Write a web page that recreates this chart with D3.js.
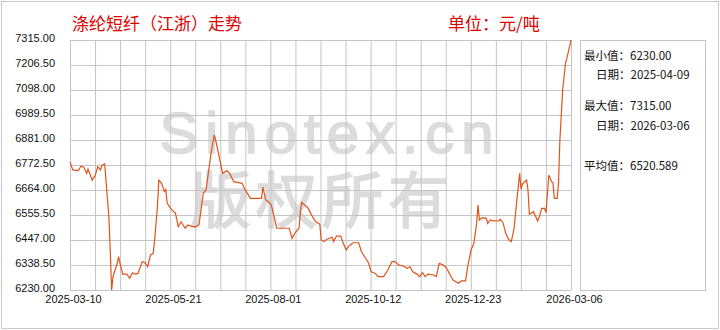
<html>
<head>
  <meta charset="utf-8">
  <title>涤纶短纤(江浙)走势</title>
  <script src="https://d3js.org/d3.v7.min.js"></script>
  <style>
    body { margin: 0; background: #fff; }
    .gridlines line { stroke: #c4c4c4; }
    .gridlines .domain { stroke: none; }
    .axis .domain, .axis line { stroke: none; }
    .axis text { font-family: "Liberation Sans", Arial, sans-serif; font-size: 11px; fill: #111; }
  </style>
</head>
<body>
<svg id="chart" width="720" height="330"></svg>
<script>
  // price series (元/吨)
  const dates = [
    "2025-03-10","2025-03-12","2025-03-16","2025-03-18","2025-03-20","2025-03-22","2025-03-23","2025-03-26","2025-03-28","2025-03-30",
    "2025-04-01","2025-04-02","2025-04-04","2025-04-05","2025-04-07","2025-04-08","2025-04-09","2025-04-10","2025-04-13","2025-04-14",
    "2025-04-15","2025-04-17","2025-04-20","2025-04-22","2025-04-24","2025-04-26","2025-04-28","2025-05-01","2025-05-03","2025-05-05",
    "2025-05-07","2025-05-09","2025-05-10","2025-05-12","2025-05-13","2025-05-15","2025-05-17","2025-05-18","2025-05-19","2025-05-22",
    "2025-05-25","2025-05-27","2025-05-29","2025-06-01","2025-06-03","2025-06-06","2025-06-09","2025-06-11","2025-06-14","2025-06-15",
    "2025-06-16","2025-06-18","2025-06-20","2025-06-22","2025-06-24","2025-06-26","2025-06-28","2025-07-01","2025-07-03","2025-07-06",
    "2025-07-12","2025-07-14","2025-07-18","2025-07-26","2025-07-27","2025-07-29","2025-07-31","2025-08-02","2025-08-04","2025-08-06",
    "2025-08-08","2025-08-15","2025-08-17","2025-08-19","2025-08-22","2025-08-23","2025-08-24","2025-08-26","2025-08-28","2025-08-29",
    "2025-09-01","2025-09-03","2025-09-06","2025-09-07","2025-09-09","2025-09-11","2025-09-15","2025-09-16","2025-09-18","2025-09-21",
    "2025-09-23","2025-09-25","2025-09-27","2025-09-30","2025-10-04","2025-10-06","2025-10-09","2025-10-11","2025-10-13","2025-10-16",
    "2025-10-18","2025-10-22","2025-10-25","2025-10-28","2025-10-30","2025-11-02","2025-11-05","2025-11-08","2025-11-10","2025-11-12",
    "2025-11-15","2025-11-17","2025-11-19","2025-11-21","2025-11-23","2025-11-27","2025-11-29","2025-12-01","2025-12-04","2025-12-06",
    "2025-12-09","2025-12-11","2025-12-15","2025-12-17","2025-12-20","2025-12-22","2025-12-24","2025-12-26","2025-12-28","2025-12-29",
    "2025-12-30","2026-01-01","2026-01-04","2026-01-05","2026-01-07","2026-01-09","2026-01-13","2026-01-14","2026-01-16","2026-01-18",
    "2026-01-20","2026-01-22","2026-01-24","2026-01-26","2026-01-28","2026-01-29","2026-01-30","2026-02-02","2026-02-03","2026-02-04",
    "2026-02-07","2026-02-10","2026-02-11","2026-02-13","2026-02-15","2026-02-16","2026-02-18","2026-02-20","2026-02-21","2026-02-22",
    "2026-02-24","2026-02-25","2026-02-26","2026-02-28","2026-03-02","2026-03-03","2026-03-05","2026-03-06"
  ];
  const prices = [
    6785,6751,6748,6768,6762,6736,6755,6707,6725,6765,
    6751,6772,6777,6700,6548,6400,6230,6288,6346,6375,
    6346,6299,6299,6281,6305,6299,6302,6353,6349,6331,
    6382,6389,6447,6591,6707,6693,6657,6667,6606,6581,
    6563,6505,6526,6498,6512,6505,6505,6515,6650,6657,
    6664,6751,6838,6903,6852,6794,6736,6748,6736,6700,
    6693,6667,6628,6628,6676,6621,6613,6599,6551,6498,
    6498,6498,6454,6476,6498,6570,6610,6599,6589,6580,
    6545,6526,6516,6447,6440,6450,6459,6440,6464,6464,
    6432,6404,6421,6435,6435,6396,6368,6349,6309,6302,
    6288,6288,6317,6353,6353,6338,6334,6324,6331,6309,
    6299,6288,6305,6288,6299,6295,6288,6346,6338,6328,
    6295,6273,6259,6270,6270,6346,6404,6432,6519,6599,
    6534,6544,6541,6519,6534,6530,6531,6537,6522,6476,
    6450,6440,6498,6621,6736,6667,6690,6707,6664,6559,
    6570,6530,6545,6584,6584,6566,6729,6700,6696,6628,
    6628,6693,6881,7098,7214,7235,7286,7315
  ];

  const yTicks = [6230, 6338.5, 6447, 6555.5, 6664, 6772.5, 6881, 6989.5, 7098, 7206.5, 7315];
  const xTicks = ["2025-03-10", "2025-05-21", "2025-08-01", "2025-10-12", "2025-12-23", "2026-03-06"];
  const gridColumns = 20;
  const avgPrice = 6520.589;

  const svg = d3.select('svg#chart');
  const margins = { top: 40, left: 70 };
  const chartWidth = 501;
  const chartHeight = 250;

  const parse = d3.timeParse("%Y-%m-%d");
  const data = dates.map((d, i) => ({ date: parse(d), price: prices[i] }));

  // outer frame
  svg.append('rect')
    .attr('x', 1.5).attr('y', 1.5).attr('width', 717).attr('height', 327)
    .attr('fill', 'white').attr('stroke', '#c8c8c8');

  // watermark (slightly stroked so it reads as heavy as the original)
  svg.append('text')
    .attr('x', 330).attr('y', 153)
    .attr('text-anchor', 'middle')
    .attr('font-family', '"Liberation Sans", Arial, sans-serif')
    .attr('font-size', 58)
    .attr('letter-spacing', 7)
    .attr('fill', '#dcdcdc')
    .attr('stroke', '#dcdcdc')
    .attr('stroke-width', 1.6)
    .text('Sinotex.cn');
  svg.append('text')
    .attr('x', 322).attr('y', 223)
    .attr('text-anchor', 'middle')
    .attr('font-family', '"Noto Sans CJK SC", sans-serif')
    .attr('font-size', 61)
    .attr('letter-spacing', 5)
    .attr('fill', '#dcdcdc')
    .attr('stroke', '#dcdcdc')
    .attr('stroke-width', 1.6)
    .text('版权所有');

  const chartArea = svg.append('g')
    .attr('transform', `translate(${margins.left},${margins.top})`);

  const xScale = d3.scaleTime()
    .domain([parse(xTicks[0]), parse(xTicks[xTicks.length - 1])])
    .range([0, chartWidth]);
  const yScale = d3.scaleLinear()
    .domain([yTicks[0], yTicks[yTicks.length - 1]])
    .range([chartHeight, 0]);
  const colScale = d3.scaleLinear().domain([0, gridColumns]).range([0, chartWidth]);

  // gridlines
  chartArea.append('g')
    .attr('class', 'y gridlines')
    .call(d3.axisLeft(yScale).tickValues(yTicks).tickFormat('').tickSize(-chartWidth).tickSizeOuter(0));
  chartArea.append('g')
    .attr('class', 'x gridlines')
    .attr('transform', `translate(0,${chartHeight})`)
    .call(d3.axisBottom(colScale).tickValues(d3.range(gridColumns + 1)).tickFormat('').tickSize(-chartHeight).tickSizeOuter(0));

  // axes labels
  const leftAxis = chartArea.append('g')
    .attr('class', 'y axis')
    .call(d3.axisLeft(yScale).tickValues(yTicks).tickFormat(d3.format('.2f')).tickSize(0).tickPadding(15));
  leftAxis.selectAll('text').attr('dy', '0.1em');

  chartArea.append('g')
    .attr('class', 'x axis')
    .attr('transform', `translate(3,${chartHeight})`)
    .call(d3.axisBottom(xScale).tickValues(xTicks.map(parse)).tickFormat(d3.timeFormat('%Y-%m-%d')).tickSize(0).tickPadding(5));

  // price line
  const line = d3.line()
    .x(d => xScale(d.date))
    .y(d => yScale(d.price));

  chartArea.append('path')
    .datum(data)
    .attr('fill', 'none')
    .attr('stroke', '#e0541c')
    .attr('stroke-width', 1.2)
    .attr('d', line);

  // titles
  svg.append('text')
    .attr('x', 72).attr('y', 30)
    .attr('font-family', '"Noto Sans CJK SC", sans-serif')
    .attr('font-size', 17)
    .attr('fill', '#e00000')
    .text('涤纶短纤（江浙）走势');
  svg.append('text')
    .attr('x', 448).attr('y', 30)
    .attr('font-family', '"Noto Sans CJK SC", sans-serif')
    .attr('font-size', 17)
    .attr('fill', '#e00000')
    .text('单位：元/吨');

  // stats panel
  const minD = data.reduce((a, b) => b.price < a.price ? b : a);
  const maxD = data.reduce((a, b) => b.price > a.price ? b : a);
  const fmtDate = d3.timeFormat('%Y-%m-%d');
  const stats = [
    { x: 584, y: 60, t: '最小值：' + d3.format('.2f')(minD.price) },
    { x: 596, y: 79, t: '日期：' + fmtDate(minD.date) },
    { x: 584, y: 110, t: '最大值：' + d3.format('.2f')(maxD.price) },
    { x: 596, y: 130, t: '日期：' + fmtDate(maxD.date) },
    { x: 584, y: 170, t: '平均值：' + avgPrice }
  ];

  svg.append('rect')
    .attr('x', 580.5).attr('y', 40.5).attr('width', 125).attr('height', 250)
    .attr('fill', 'none').attr('stroke', '#c4c4c4');

  svg.selectAll('text.stat')
    .data(stats)
    .enter()
    .append('text')
    .attr('class', 'stat')
    .attr('x', d => d.x)
    .attr('y', d => d.y)
    .attr('font-family', '"Noto Sans CJK SC", sans-serif')
    .attr('font-size', 11.5)
    .attr('fill', '#111')
    .text(d => d.t);
</script>
</body>
</html>
